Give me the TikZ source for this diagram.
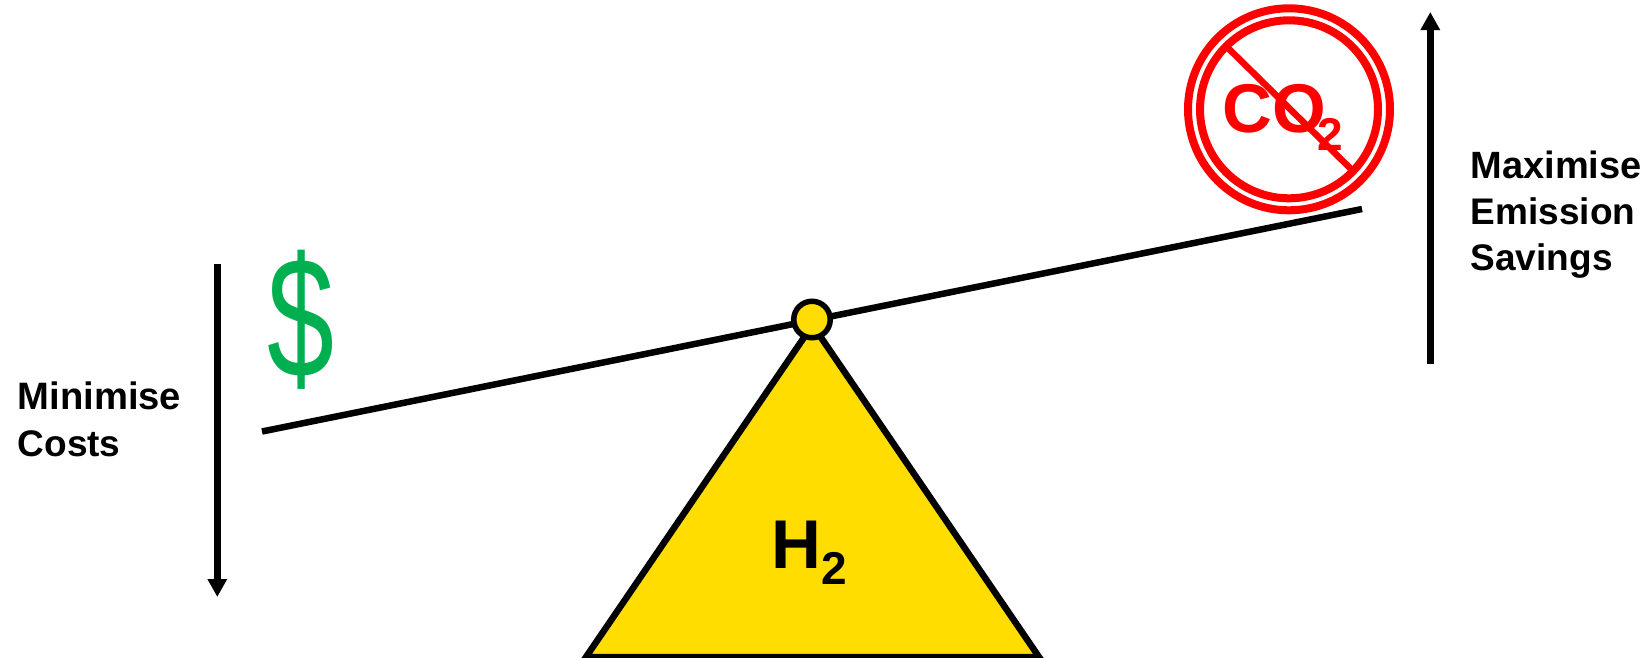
\documentclass[tikz,border=0pt]{standalone}
\usepackage{fontspec}
\setmainfont{Liberation Sans}
\usetikzlibrary{arrows.meta}
\definecolor{hyellow}{HTML}{FFDD00}
\definecolor{dgreen}{HTML}{00B050}
\definecolor{nored}{HTML}{FF0000}
\tikzset{
  x=1pt,y=-1pt,
  lbl/.style={anchor=base west,inner sep=0pt,font=\fontsize{37}{37}\selectfont\bfseries,text=black},
  lblb/.style={lbl,font=\fontsize{38.2}{38.2}\selectfont\bfseries},
  big/.style={anchor=base west,inner sep=0pt,font=\fontsize{69}{69}\selectfont\bfseries},
  sub/.style={anchor=base west,inner sep=0pt,font=\fontsize{46}{46}\selectfont\bfseries},
  dir/.style={line width=6.5pt,-{Triangle[length=18pt,width=18.5pt]}},
  ring/.style={draw=nored,line width=8pt,circle,inner sep=0pt,fill=none},
}
\begin{document}
\begin{tikzpicture}[line join=miter]
\useasboundingbox (0,0) rectangle (1649,657);
\fill[white] (0,0) rectangle (1649,657);
% beam
\coordinate (bl) at (262,431.5);
\coordinate (br) at (1362,209);
\draw[line width=6.5pt] (bl) -- (br);
% triangle
\coordinate (ta) at (812.5,325);
\coordinate (tl) at (586,657);
\coordinate (tr) at (1039,657);
\draw[line width=6.5pt,fill=hyellow] (ta) -- (tl) -- (tr) -- cycle;
\node[circle,draw=black,fill=hyellow,line width=5.5pt,minimum size=36.5pt,inner sep=0pt] (pivot) at (812,319.5) {};
\node[big,text=black] (h) at (771,568) {H};
\node[sub,text=black] (h2) at (821,584) {2};
% arrows
\coordinate (a1s) at (1430.3,364);
\coordinate (a1e) at (1430.3,12);
\draw[dir] (a1s) -- (a1e);
\coordinate (a2s) at (217.3,264);
\coordinate (a2e) at (217.3,597);
\draw[dir] (a2s) -- (a2e);
% no CO2
\node[ring,minimum size=202pt] (r1) at (1289,109.3) {};
\node[ring,minimum size=178pt] (r2) at (1289,109.3) {};
\node[big,text=nored] (co) at (1222,132) {CO};
\node[sub,text=nored] (co2) at (1317,150) {2};
\coordinate (s1) at (1228,48);
\coordinate (s2) at (1352,170);
\draw[nored,line width=6.5pt] (s1) -- (s2);
% labels
\node[lbl,font=\fontsize{38}{38}\selectfont\bfseries] (m1) at (1470.5,178) {Maximise};
\node[lbl] (m2) at (1470.5,224) {Emission};
\node[lbl] (m3) at (1470.5,270) {Savings};
\node[lblb] (c1) at (17.5,409) {Minimise};
\node[lbl] (c2) at (17.5,456) {Costs};
\node[anchor=base west,inner sep=0pt,text=dgreen,xscale=.7,font=\fontsize{172}{172}\selectfont] (d) at (267,377) {\$};
\end{tikzpicture}
\end{document}
